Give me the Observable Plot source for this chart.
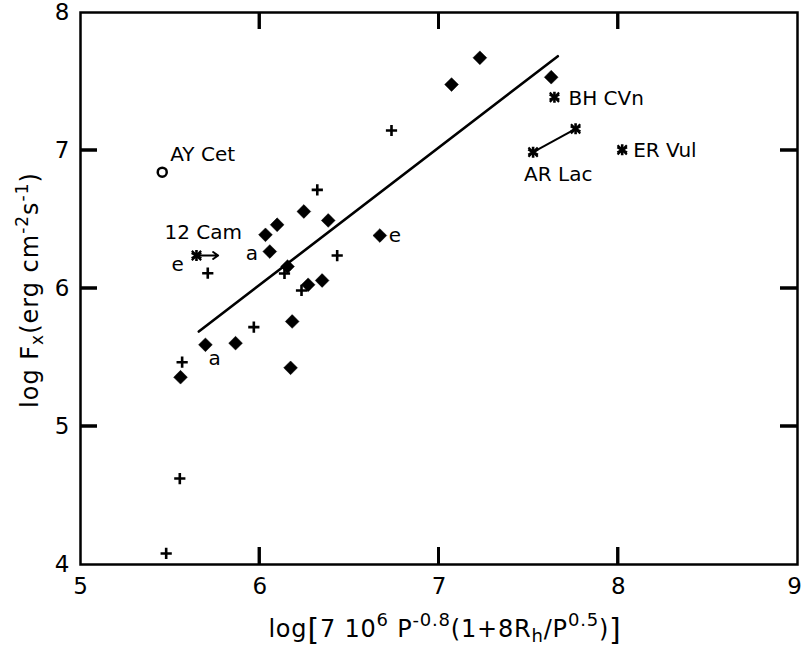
<!DOCTYPE html>
<html><head><meta charset="utf-8">
<script src="https://cdn.jsdelivr.net/npm/d3@7"></script>
<script src="https://cdn.jsdelivr.net/npm/@observablehq/plot@0.6"></script>
<style>body{margin:0;background:#fff} svg{display:block}</style>
</head><body><div id="chart"></div>
<script>
// Filled diamonds
const diamondX = [7.228, 7.070, 7.626, 6.246, 6.097, 6.032, 6.382, 6.056, 6.670, 6.155, 6.270, 6.348, 6.181, 6.172, 5.697, 5.865, 5.558];
const diamondY = [7.672, 7.478, 7.531, 6.558, 6.462, 6.389, 6.493, 6.268, 6.384, 6.159, 6.027, 6.058, 5.761, 5.425, 5.592, 5.604, 5.357];
// Plus signs
const plusX = [6.735, 6.321, 6.432, 6.138, 6.233, 5.710, 5.967, 5.567, 5.554, 5.478];
const plusY = [7.145, 6.715, 6.239, 6.109, 5.986, 6.111, 5.720, 5.466, 4.623, 4.080];
// Asterisks (named stars)
const starNames = ["12 Cam", "BH CVn", "AR Lac", "AR Lac", "ER Vul"];
const starX = [5.647, 7.644, 7.762, 7.525, 8.022];
const starY = [6.239, 7.386, 7.157, 6.988, 7.005];
// Open circle
const circleNames = ["AY Cet"];
const circleX = [5.456];
const circleY = [6.843];
// Regression line
const fitX = [5.660, 7.663];
const fitY = [5.688, 7.683];
// 12 Cam arrow (start/end x at 12 Cam's y)
const arrowX = [5.665, 5.768];
// AR Lac link indices
const linkPair = [2, 3];
// Ticks
const xTicks = [5, 6, 7, 8, 9];
const yTicks = [4, 5, 6, 7, 8];
const xInner = [6, 7, 8];
const yInner = [5, 6, 7];

const W = 803, H = 650, mL = 80, mR = 6, mT = 12, mB = 86;
const innerW = W - mL - mR, innerH = H - mT - mB, tickLen = 17, tickW = 3;
const FONT = "DejaVu Sans, sans-serif";
const xDom = [5, 9], yDom = [4, 8];
const ux = (xDom[1] - xDom[0]) / innerW;  // data units per pixel
const uy = (yDom[1] - yDom[0]) / innerH;

const diamonds = diamondX.map((x, i) => ({x, y: diamondY[i]}));
const pluses = plusX.map((x, i) => ({x, y: plusY[i]}));
const stars = starX.map((x, i) => ({x, y: starY[i], name: starNames[i]}));
const circles = circleX.map((x, i) => ({x, y: circleY[i], name: circleNames[i]}));
const fit = fitX.map((x, i) => ({x, y: fitY[i]}));

function label(text, pt, dx, dy, anchor = "start") {
  return Plot.text([pt], {x: "x", y: "y", text: () => text, dx, dy, textAnchor: anchor, fontSize: 20, fill: "black"});
}
// inward tick marks drawn as thin filled rects
function xTickRects(yEdge, dir) {
  return Plot.rect(xInner, {
    x1: d => d - ux * tickW / 2, x2: d => d + ux * tickW / 2,
    y1: () => yEdge, y2: () => yEdge + dir * uy * tickLen, fill: "black"
  });
}
function yTickRects(xEdge, dir) {
  return Plot.rect(yInner, {
    y1: d => d - uy * tickW / 2, y2: d => d + uy * tickW / 2,
    x1: () => xEdge, x2: () => xEdge + dir * ux * tickLen, fill: "black"
  });
}

const plot = Plot.plot({
  width: W, height: H,
  marginLeft: mL, marginRight: mR, marginTop: mT, marginBottom: mB,
  style: {fontFamily: FONT, background: "white", color: "black"},
  x: {domain: xDom, label: null, axis: null},
  y: {domain: yDom, label: null, axis: null},
  marks: [
    Plot.frame({stroke: "black", strokeWidth: 2.5}),
    xTickRects(yDom[0], 1),
    xTickRects(yDom[1], -1),
    yTickRects(xDom[0], 1),
    yTickRects(xDom[1], -1),
    Plot.text(xTicks.slice(0, 4), {x: d => d, y: () => yDom[0], dy: 22, text: d => d3.format("d")(d), fontSize: 23, fill: "black"}),
    Plot.text(xTicks.slice(4), {x: d => d, y: () => yDom[0], dy: 22, dx: -3, text: d => d3.format("d")(d), fontSize: 23, fill: "black"}),
    Plot.text(yTicks, {y: d => d, x: () => xDom[0], dx: -11, textAnchor: "end", text: d => d3.format("d")(d), fontSize: 23, fill: "black"}),
    Plot.line(fit, {x: "x", y: "y", stroke: "black", strokeWidth: 2.6}),
    Plot.link([0], {x1: () => starX[linkPair[0]], y1: () => starY[linkPair[0]], x2: () => starX[linkPair[1]], y2: () => starY[linkPair[1]], stroke: "black", strokeWidth: 2}),
    Plot.arrow([0], {x1: () => arrowX[0], y1: () => starY[0], x2: () => arrowX[1], y2: () => starY[0], stroke: "black", strokeWidth: 2, headLength: 9, headAngle: 70}),
    Plot.dot(diamonds, {x: "x", y: "y", symbol: "diamond2", r: 6.2, fill: "black", stroke: "black", strokeWidth: 0.5}),
    Plot.dot(pluses, {x: "x", y: "y", symbol: "plus", r: 3.7, stroke: "black", strokeWidth: 2.6}),
    Plot.dot(stars, {x: "x", y: "y", symbol: "asterisk", r: 5.2, stroke: "black", strokeWidth: 2.6}),
    Plot.dot(stars, {x: "x", y: "y", symbol: "times", r: 4.3, stroke: "black", strokeWidth: 2.2}),
    Plot.dot(circles, {x: "x", y: "y", symbol: "circle", r: 4.5, fill: "none", stroke: "black", strokeWidth: 2.5}),
    label("AY Cet", circles[0], 8, -18),
    label("12 Cam", stars[0], -32, -23),
    label("e", stars[0], -25, 9),
    label("BH CVn", stars[1], 14, 1),
    label("AR Lac", stars[3], -9, 22),
    label("ER Vul", stars[4], 11, 1),
    label("a", diamonds[7], -24, 2),
    label("e", diamonds[8], 9, 0),
    label("a", diamonds[14], 3, 14)
  ]
});

document.getElementById("chart").appendChild(plot);
const svg = d3.select(plot);

// extra inward ticks placed with Plot's own scales (ensures they are painted)
const sx = plot.scale("x"), sy = plot.scale("y");
const gT = svg.append("g").attr("stroke", "black").attr("stroke-width", tickW).attr("fill", "none");
xInner.forEach(v => {
  const px = sx.apply(v), y0 = sy.apply(yDom[0]), y1 = sy.apply(yDom[1]);
  gT.append("path").attr("d", `M${px - 0.01},${y0} L${px + 0.01},${y0 - tickLen}`);
  gT.append("path").attr("d", `M${px - 0.01},${y1} L${px + 0.01},${y1 + tickLen}`);
});
yInner.forEach(v => {
  const py = sy.apply(v), x0 = sx.apply(xDom[0]), x1 = sx.apply(xDom[1]);
  gT.append("path").attr("d", `M${x0},${py - 0.01} L${x0 + tickLen},${py + 0.01}`);
  gT.append("path").attr("d", `M${x1},${py - 0.01} L${x1 - tickLen},${py + 0.01}`);
});

// x-axis title with super/subscripts
const xt = svg.append("text")
  .attr("x", 445).attr("y", 637)
  .attr("text-anchor", "middle")
  .attr("letter-spacing", 0.8)
  .attr("font-family", FONT).attr("font-size", 24).attr("fill", "black");
const xParts = [
  ["log", 24, 0],
  ["[", 30, 3],
  ["7 10", 24, -3],
  ["6", 18, -11],
  [" P", 24, 11],
  ["-0.8", 18, -11],
  ["(1+8R", 24, 11],
  ["h", 18, 5],
  ["/P", 24, -5],
  ["0.5", 18, -11],
  [")", 24, 11],
  ["]", 30, 3]
];
xParts.forEach(([t, fs, dy]) => xt.append("tspan").attr("font-size", fs).attr("dy", dy).text(t));

// y-axis title rotated
const yt = svg.append("text")
  .attr("transform", "translate(38,290) rotate(-90)")
  .attr("text-anchor", "middle")
  .attr("letter-spacing", 1)
  .attr("font-family", FONT).attr("font-size", 24).attr("fill", "black");
const yParts = [
  ["log F", 24, 0],
  ["x", 17, 5],
  ["(erg cm", 24, -5],
  ["-2", 17, -10],
  ["s", 24, 10],
  ["-1", 17, -10],
  [")", 24, 10]
];
yParts.forEach(([t, fs, dy]) => yt.append("tspan").attr("font-size", fs).attr("dy", dy).text(t));
</script>
</body></html>
